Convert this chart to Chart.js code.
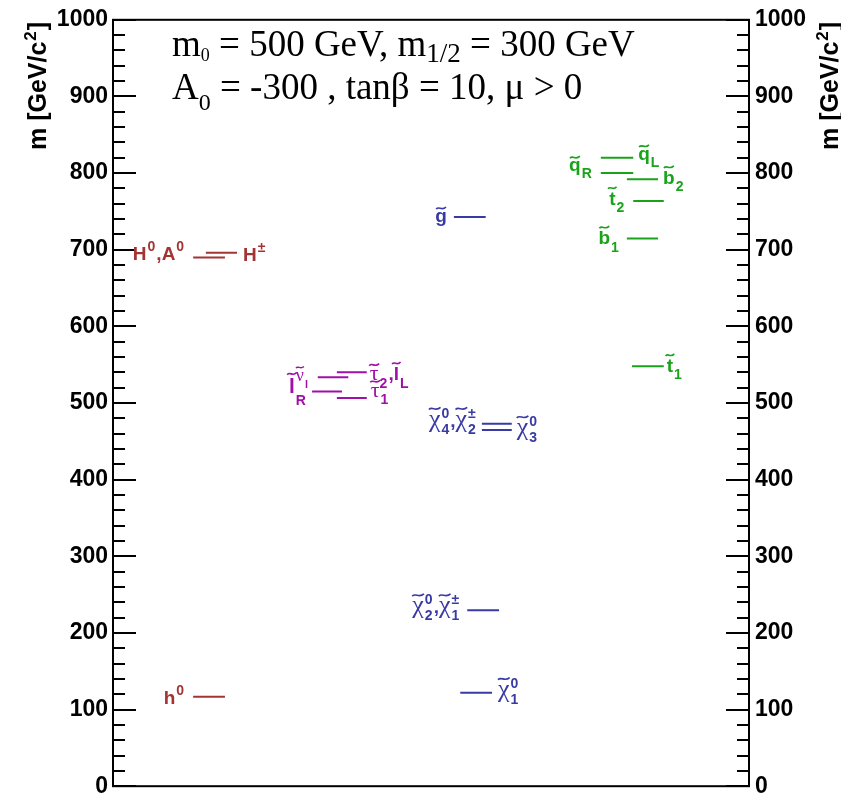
<!DOCTYPE html>
<html><head><meta charset="utf-8">
<script src="https://cdn.jsdelivr.net/npm/chart.js@4.4.1/dist/chart.umd.min.js"></script>
<style>html,body{margin:0;padding:0;background:#fff}#wrap{width:841px;height:806px;position:relative}</style>
</head><body><div id="wrap"><canvas id="c" width="841" height="806"></canvas></div>
<script>
// ---- data ----
const particles = ['h0','H0A0','Hpm','nul','tau2lL','lR','tau1','gluino','chi4chi2pm','chi3','chi20chi1pm','chi10','qL','qR','b2','t2','b1','t1'];
const masses    = [116.7, 690, 696, 533.6, 540, 515, 506.5, 742.8, 473, 464.7, 229.6, 121.8, 820, 800, 792, 763.5, 714.7, 548];
const groups    = ['higgs','higgs','higgs','slepton','slepton','slepton','slepton','gaugino','gaugino','gaugino','gaugino','gaugino','squark','squark','squark','squark','squark','squark'];
// horizontal extent of each level, in x-scale units (0..100)
const xStart    = [12.6, 12.6, 14.6, 32.2, 35.2, 31.3, 35.2, 53.6, 58.0, 58.0, 55.7, 54.6, 76.7, 76.7, 80.8, 81.8, 80.8, 81.6];
const xEnd      = [17.6, 17.6, 19.5, 37.0, 39.9, 36.0, 39.9, 58.6, 62.7, 62.7, 60.7, 59.6, 81.8, 81.8, 85.7, 86.6, 85.7, 86.6];
const yTicks    = [0,100,200,300,400,500,600,700,800,900,1000];
const yTitle    = 'm [GeV/c²]';
const infoLine1 = ['m', '0', ' = 500 GeV, m', '1/2', ' = 300 GeV'];
const infoLine2 = ['A', '0', ' = -300 , tanβ = 10, μ > 0'];

// ---- styles ----
const groupColor = {higgs:'#a33434', slepton:'#a010a8', gaugino:'#3a3aa4', squark:'#1aa31a'};

// rich labels: items {b, tilde, sup, sub}; side, gap (px), dy (baseline offset px)
const T = (b, o) => Object.assign({b, tilde:true}, o||{});
const P = (b, o) => Object.assign({b}, o||{});
const labelSpec = {
  h0:        {side:'L', gap:8, dy:7,  items:[P('h',{sup:'0'})]},
  H0A0:      {side:'L', gap:8, dy:3,  items:[P('H',{sup:'0'}), P(','), P('A',{sup:'0'})]},
  Hpm:       {side:'R', gap:6, dy:8,  items:[P('H',{sup:'±'})]},
  nul:       {side:'L', gap:0, dy:0,  items:[]},
  lR:        {side:'L', gap:2, dy:1,  items:[T('l',{k:1.12, sub:'R', subDy:12, supDy:-12, supItems:[T('ν',{g:1.25, sub:'l', subDy:7})]})]},
  tau2lL:    {side:'R', gap:3, dy:8,  items:[T('τ',{g:1.15, sub:'2'}), P(','), T('l',{sub:'L'})]},
  tau1:      {side:'R', gap:4, dy:-1, items:[T('τ',{g:1.15, sub:'1'})]},
  gluino:    {side:'L', gap:7, dy:5,  items:[T('g')]},
  chi4chi2pm:{side:'L', gap:5, dy:3,  items:[T('χ',{g:1.35, sup:'0',sub:'4'}), P(','), T('χ',{g:1.35, sup:'±',sub:'2'})]},
  chi3:      {side:'R', gap:5, dy:5,  items:[T('χ',{g:1.35, sup:'0',sub:'3'})]},
  chi20chi1pm:{side:'L',gap:7, dy:3,  items:[T('χ',{g:1.35, sup:'0',sub:'2'}), P(','), T('χ',{g:1.35, sup:'±',sub:'1'})]},
  chi10:     {side:'R', gap:6, dy:4,  items:[T('χ',{g:1.35, sup:'0',sub:'1'})]},
  qL:        {side:'R', gap:5, dy:2,  items:[T('q',{sub:'L'})]},
  qR:        {side:'L', gap:8, dy:-2, items:[T('q',{sub:'R'})]},
  b2:        {side:'R', gap:5, dy:5,  items:[T('b',{sub:'2'})]},
  t2:        {side:'L', gap:8, dy:4,  items:[T('t',{sub:'2'})]},
  b1:        {side:'L', gap:7, dy:6,  items:[T('b',{sub:'1'})]},
  t1:        {side:'R', gap:3, dy:6,  items:[T('t',{sub:'1'})]}
};

const SANS = '"Liberation Sans", Arial, Helvetica, sans-serif';
const SERIF = '"Liberation Serif", "Times New Roman", serif';
const LSIZE = 19;

function drawRich(ctx, items, x, y, size, color, draw) {
  let cx = x;
  for (const it of items) {
    const bs = Math.round(size * (it.g || it.k || 1));
    ctx.font = it.g ? (bs + 'px ' + SERIF) : ('bold ' + bs + 'px ' + SANS);
    const w = ctx.measureText(it.b).width;
    if (draw) {
      ctx.fillStyle = color;
      ctx.fillText(it.b, cx, y);
      if (it.tilde) {
        const tall = /[lbtdhk]/.test(it.b);
        const ty = y - (tall ? 0.80 : 0.62) * bs - 2;
        const tw = Math.max(w * 0.85, bs * 0.45);
        const tx = cx + (w - tw) / 2;
        ctx.beginPath();
        ctx.lineWidth = Math.max(1.3, size * 0.085);
        ctx.strokeStyle = color;
        ctx.moveTo(tx, ty + size*0.05);
        ctx.bezierCurveTo(tx + tw*0.3, ty - size*0.14, tx + tw*0.55, ty + size*0.18, tx + tw, ty - size*0.06);
        ctx.stroke();
      }
    }
    let sw = 0;
    const ss = Math.round(size * 0.76);
    ctx.fillStyle = color;
    const supY = y + (it.supDy !== undefined ? it.supDy : -size * 0.48);
    const subY = y + (it.subDy !== undefined ? it.subDy : size * 0.38);
    if (it.sup) { ctx.font = 'bold ' + ss + 'px ' + SANS; sw = Math.max(sw, ctx.measureText(it.sup).width); if (draw) ctx.fillText(it.sup, cx + w + 1, supY); }
    if (it.supItems) { sw = Math.max(sw, drawRich(ctx, it.supItems, cx + w + 1, supY, ss, color, draw)); }
    if (it.sub) { ctx.font = 'bold ' + ss + 'px ' + SANS; sw = Math.max(sw, ctx.measureText(it.sub).width); if (draw) ctx.fillText(it.sub, cx + w + 1, subY); }
    cx += w + (sw ? sw + 2 : 0);
  }
  return cx - x;
}

function drawScript(ctx, parts, x, y, size, subSizes, subDys) {
  let cx = x, k = 0;
  parts.forEach((p, i) => {
    const isSub = i % 2 === 1;
    ctx.font = (isSub ? subSizes[k] : size) + 'px ' + SERIF;
    ctx.fillText(p, cx, y + (isSub ? subDys[k] : 0));
    cx += ctx.measureText(p).width;
    if (isSub) k++;
  });
}

const framePlugin = {
  id: 'frame',
  afterDatasetsDraw(chart) {
    const {ctx, chartArea: a, scales} = chart;
    const y = scales.y;
    ctx.save();
    ctx.strokeStyle = '#000';
    ctx.lineWidth = 2;
    ctx.strokeRect(a.left, a.top, a.right - a.left, a.bottom - a.top);
    ctx.beginPath();
    for (let v = 0; v <= 1000; v += 20) {
      const py = Math.round(y.getPixelForValue(v));
      const len = v % 100 === 0 ? 23 : 12;
      ctx.moveTo(a.left, py); ctx.lineTo(a.left + len, py);
      ctx.moveTo(a.right, py); ctx.lineTo(a.right - len, py);
    }
    ctx.stroke();

    // particle labels
    ctx.textBaseline = 'alphabetic';
    ctx.textAlign = 'left';
    const xs = scales.x;
    particles.forEach((p, i) => {
      const s = labelSpec[p];
      if (!s || !s.items.length) return;
      const col = groupColor[groups[i]];
      const ly = y.getPixelForValue(masses[i]) + s.dy;
      const w = drawRich(ctx, s.items, 0, 0, LSIZE, col, false);
      const lx = s.side === 'L' ? xs.getPixelForValue(xStart[i]) - s.gap - w : xs.getPixelForValue(xEnd[i]) + s.gap;
      drawRich(ctx, s.items, lx, ly, LSIZE, col, true);
    });

    // info text
    ctx.fillStyle = '#000';
    drawScript(ctx, infoLine1, 172, 56, 37, [18, 27], [5, 6]);
    drawScript(ctx, infoLine2, 172, 99, 37, [24], [11]);

    // axis titles
    const drawTitle = (bx, by) => {
      ctx.save();
      ctx.translate(bx, by);
      ctx.rotate(-Math.PI / 2);
      ctx.font = 'bold 25px ' + SANS;
      ctx.fillStyle = '#000';
      const main = yTitle.replace('²]', '');
      ctx.fillText(main, 0, 0);
      let w = ctx.measureText(main).width;
      ctx.font = 'bold 17px ' + SANS;
      ctx.fillText('2', w + 1, -10);
      w += ctx.measureText('2').width + 2;
      ctx.font = 'bold 25px ' + SANS;
      ctx.fillText(']', w, 0);
      ctx.restore();
    };
    drawTitle(46, 150);
    drawTitle(838, 150);
    ctx.restore();
  }
};

const datasets = particles.map((p, i) => ({
  label: p,
  data: [{x: xStart[i], y: masses[i]}, {x: xEnd[i], y: masses[i]}],
  borderColor: groupColor[groups[i]],
  backgroundColor: groupColor[groups[i]],
  borderWidth: 2,
  pointRadius: 0,
  fill: false,
  tension: 0
}));

const tickFont = {family: SANS, weight: 'bold', size: 23};
const tickCb = v => String(v);
new Chart(document.getElementById('c'), {
  type: 'line',
  data: {datasets},
  options: {
    responsive: false,
    animation: false,
    devicePixelRatio: 1,
    layout: {padding: {top: 19, bottom: 13, left: 0, right: 0}},
    plugins: {legend: {display: false}, tooltip: {enabled: false}},
    scales: {
      x: {type: 'linear', min: 0, max: 100, display: false},
      y: {
        type: 'linear', position: 'left', min: 0, max: 1000,
        afterFit(s) { s.width = 113; },
        afterBuildTicks(s) { s.ticks = yTicks.map(v => ({value: v})); },
        grid: {display: false, drawTicks: false, tickLength: 0},
        border: {display: false},
        ticks: {font: tickFont, color: '#000', padding: 5, callback: tickCb}
      },
      y2: {
        type: 'linear', position: 'right', min: 0, max: 1000,
        afterFit(s) { s.width = 92; },
        afterBuildTicks(s) { s.ticks = yTicks.map(v => ({value: v})); },
        grid: {display: false, drawTicks: false, tickLength: 0},
        border: {display: false},
        ticks: {font: tickFont, color: '#000', padding: 6, callback: tickCb}
      }
    }
  },
  plugins: [framePlugin]
});
</script>
</body></html>
